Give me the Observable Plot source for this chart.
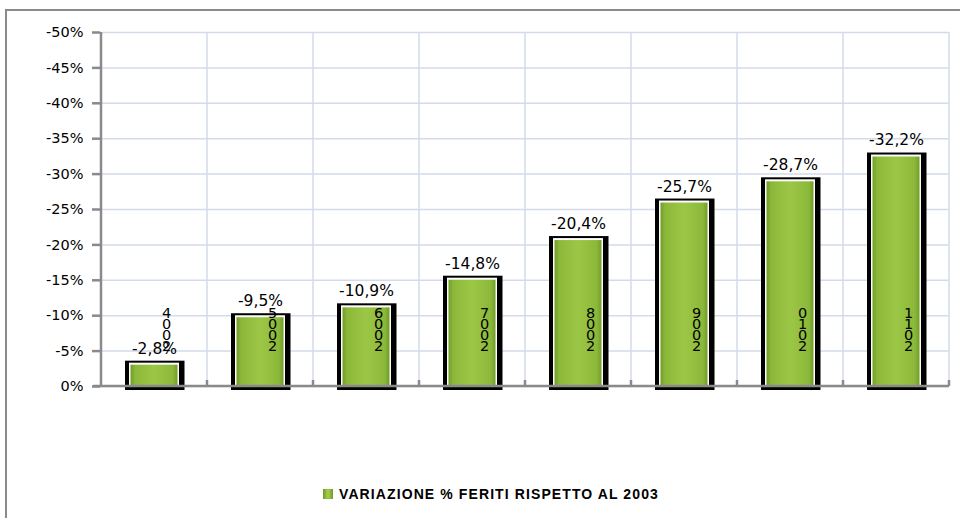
<!DOCTYPE html>
<html>
<head>
<meta charset="utf-8">
<script src="https://cdn.jsdelivr.net/npm/d3@7"></script>
<script src="https://cdn.jsdelivr.net/npm/@observablehq/plot@0.6"></script>
<style>
  html, body { margin: 0; padding: 0; background: #fff; overflow: hidden; }
  #wrap { position: relative; width: 960px; height: 518px; }
  #border { position: absolute; left: 5px; top: 9px; width: 980px; height: 540px;
            border-left: 2.5px solid #8a8a8a; border-top: 2.5px solid #8a8a8a; pointer-events: none; }
  #chart { position: absolute; left: 0; top: 0; }
  #legend { position: absolute; left: 323px; top: 486px; display: flex; align-items: center;
            font-family: "Liberation Sans", Arial, sans-serif; font-weight: bold; font-size: 14px;
            letter-spacing: 1.1px; color: #000; }
  #legend .sw { width: 10px; height: 10px; margin-right: 6px;
                background: linear-gradient(90deg, #6f9a26, #a6d04c 50%, #6f9a26); }
</style>
</head>
<body>
<div id="wrap">
  <div id="chart"></div>
  <div id="border"></div>
  <div id="legend"><span class="sw"></span><span id="legtext"></span></div>
</div>
<script>
const years = ["2004", "2005", "2006", "2007", "2008", "2009", "2010", "2011"];
const values = [-2.8, -9.5, -10.9, -14.8, -20.4, -25.7, -28.7, -32.2];
const yTicks = [0, -5, -10, -15, -20, -25, -30, -35, -40, -45, -50];
const seriesName = "VARIAZIONE % FERITI RISPETTO AL 2003";

document.getElementById("legtext").textContent = seriesName;

const data = years.map((year, i) => ({year, value: values[i]}));
const fmtVal = v => v.toFixed(1).replace(".", ",") + "%";
const fmtTick = v => v + "%";
const gridColor = "#d3dbea";
const axisColor = "#8a8a8a";

// behind bars: gradient defs + vertical band-boundary gridlines
function backLayer(index, scales, values, dims) {
  const x = scales.x, y = scales.y;
  const bw = x(years[1]) - x(years[0]);
  const g = d3.create("svg:g");
  const defs = g.append("defs");
  const lg = defs.append("linearGradient").attr("id", "gbar").attr("x1", "0").attr("x2", "1").attr("y1", "0").attr("y2", "0");
  [["0%", "#729c28"], ["10%", "#8cb83a"], ["50%", "#9cc746"], ["90%", "#8cb83a"], ["100%", "#729c28"]]
    .forEach(([o, c]) => lg.append("stop").attr("offset", o).attr("stop-color", c));
  const hg = defs.append("linearGradient").attr("id", "ghi").attr("x1", "0").attr("x2", "1").attr("y1", "0").attr("y2", "0");
  [["0%", "#9cc848"], ["20%", "#b0d95a"], ["80%", "#b0d95a"], ["100%", "#9cc848"]]
    .forEach(([o, c]) => hg.append("stop").attr("offset", o).attr("stop-color", c));
  const edges = years.map(d => x(d)).concat([x(years[years.length - 1]) + bw]);
  edges.slice(1).forEach(ex => {
    g.append("line").attr("x1", ex).attr("x2", ex).attr("y1", y(-50)).attr("y2", y(0))
      .attr("stroke", gridColor).attr("stroke-width", 1.5);
  });
  return g.node();
}

// on top: axis lines + bottom boundary ticks
function frontLayer(index, scales, values, dims) {
  const x = scales.x, y = scales.y;
  const bw = x(years[1]) - x(years[0]);
  const g = d3.create("svg:g").attr("stroke", axisColor).attr("stroke-width", 2.5);
  const x0 = x(years[0]);
  const edges = years.map(d => x(d)).concat([x(years[years.length - 1]) + bw]);
  g.append("line").attr("x1", x0).attr("x2", x0).attr("y1", y(-50)).attr("y2", y(0));
  g.append("line").attr("x1", x0 - 8).attr("x2", edges[edges.length - 1]).attr("y1", y(0)).attr("y2", y(0));
  edges.slice(1).forEach(ex => {
    g.append("line").attr("x1", ex).attr("x2", ex).attr("y1", y(0)).attr("y2", y(0) - 6);
  });
  return g.node();
}

const plot = Plot.plot({
  width: 960,
  height: 470,
  marginLeft: 100,
  marginRight: 11,
  marginTop: 32,
  marginBottom: 84,
  style: {fontFamily: "DejaVu Sans, sans-serif", fontSize: "14px", color: "#000", background: "transparent"},
  x: {type: "band", domain: years, padding: 0, axis: null, label: null},
  y: {domain: [0, -50], axis: null, label: null},
  marks: [
    Plot.gridY(yTicks, {stroke: gridColor, strokeOpacity: 1, strokeWidth: 1.5}),
    backLayer,
    Plot.barY(data, {x: "year", y: "value", fill: "#000", insetLeft: 24, insetRight: 22.5, insetTop: -5.5, insetBottom: -4}),
    Plot.barY(data, {x: "year", y: "value", fill: "#fff", insetLeft: 28, insetRight: 28, insetTop: -3.5}),
    Plot.barY(data, {x: "year", y: "value", fill: "url(#gbar)", insetLeft: 29.5, insetRight: 29.5, insetTop: -1.5}),
    Plot.tickY(data, {x: "year", y: "value", stroke: "url(#ghi)", strokeWidth: 5, dy: 2, insetLeft: 31, insetRight: 31}),
    Plot.axisY(yTicks, {anchor: "left", label: null, tickSize: 8, tickPadding: 9, stroke: axisColor, strokeWidth: 2.5, tickFormat: fmtTick, fontSize: 14.5, fill: "#000"}),
    Plot.axisX({anchor: "bottom", label: null, tickSize: 0, tickPadding: 0, dy: -76, dx: 12, lineHeight: 0.76, fontSize: 14.5, fill: "#000",
                tickFormat: d => d.split("").reverse().join("\n")}),
    Plot.text(data, {x: "year", y: "value", text: d => fmtVal(d.value), dy: -18, fontSize: 15.5, fill: "#000"}),
    frontLayer
  ]
});
document.getElementById("chart").appendChild(plot);
</script>
</body>
</html>
